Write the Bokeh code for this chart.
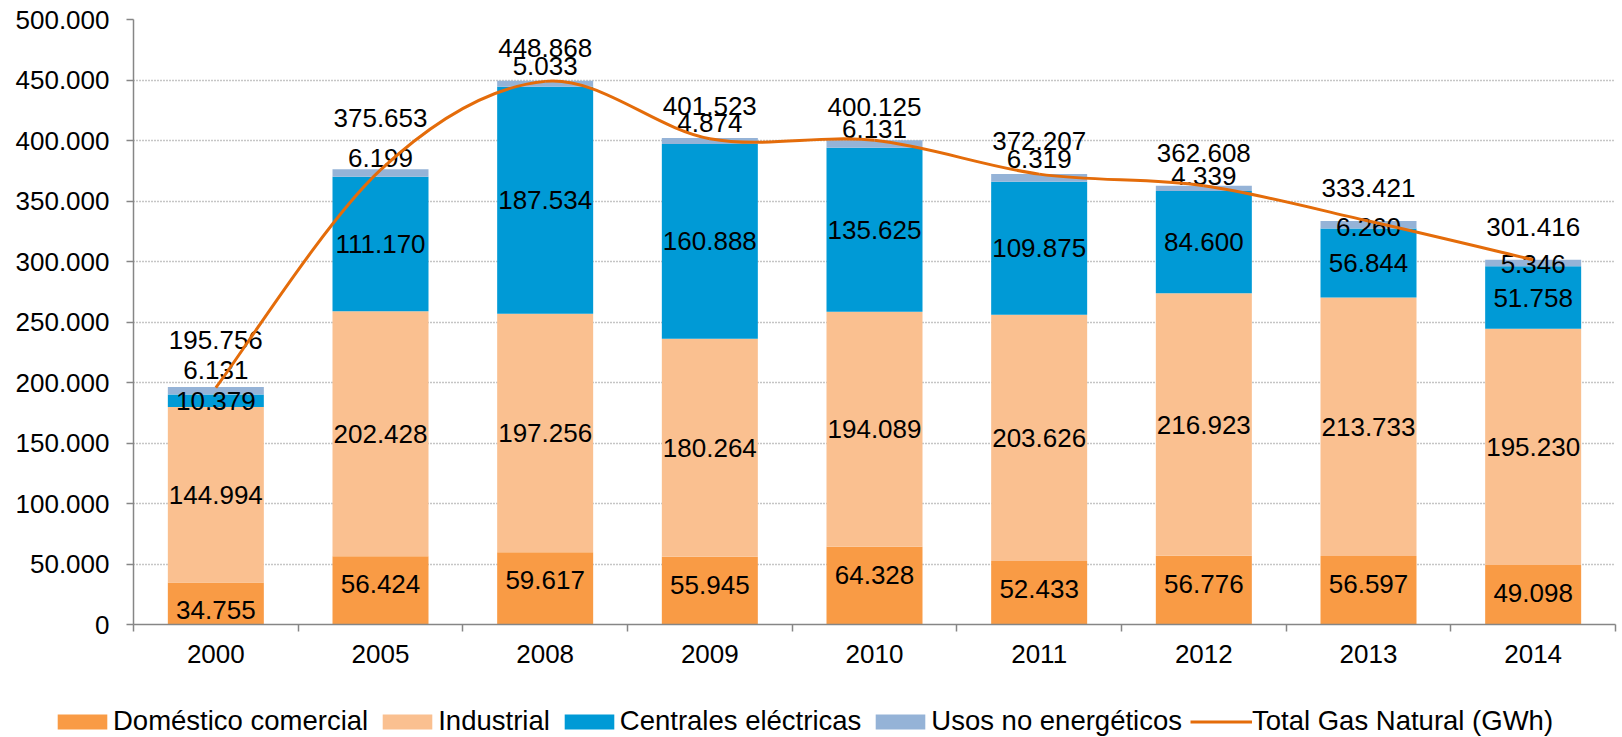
from bokeh.plotting import figure
from bokeh.models import (Range1d, FixedTicker, CustomJSTickFormatter, Legend, LegendItem,
                          ColumnDataSource)
from bokeh.embed import file_html
from bokeh.resources import INLINE
from bokeh.core.properties import value

# ---------------- data ----------------
years = ["2000", "2005", "2008", "2009", "2010", "2011", "2012", "2013", "2014"]
domestico = [34755, 56424, 59617, 55945, 64328, 52433, 56776, 56597, 49098]
industrial = [144994, 202428, 197256, 180264, 194089, 203626, 216923, 213733, 195230]
centrales = [10379, 111170, 187534, 160888, 135625, 109875, 84600, 56844, 51758]
usos = [6131, 6199, 5033, 4874, 6131, 6319, 4339, 6260, 5346]
total = [195756, 375653, 448868, 401523, 400125, 372207, 362608, 333421, 301416]
series_names = ["Doméstico comercial", "Industrial", "Centrales eléctricas",
                "Usos no energéticos", "Total Gas Natural (GWh)"]
y_ticks = list(range(0, 500001, 50000))

# label nudges (screen px) as placed in the original
usos_label_dy = [-21, -15, -18, -18, -15, -19, -12, 2, 1]
total_label_dy = [-48, -52, -33, -33, -33, -33, -33, -33, -33]

FONT = "Liberation Sans"
FS = "26px"
C_DOM = "#F99B45"
C_IND = "#FAC090"
C_CEN = "#009AD6"
C_USO = "#95B3D7"
C_TOT = "#E46C0A"
AXIS_C = "#868686"

n = len(years)
xc = [i + 0.5 for i in range(n)]


def fmt(v):
    return f"{v:,}".replace(",", ".")


b_ind = domestico
t_ind = [a + b for a, b in zip(domestico, industrial)]
t_cen = [a + b for a, b in zip(t_ind, centrales)]
t_uso = [a + b for a, b in zip(t_cen, usos)]

p = figure(width=1622, height=680, output_backend="svg", toolbar_location=None,
           x_range=Range1d(0, n), y_range=Range1d(0, 500000),
           min_border_left=133, min_border_right=7, min_border_top=19, min_border_bottom=56)
p.outline_line_color = None
p.background_fill_color = "white"
p.border_fill_color = "white"

# axes
p.yaxis.ticker = FixedTicker(ticks=y_ticks)
p.yaxis.formatter = CustomJSTickFormatter(code="""
    return Math.round(tick).toString().replace(/\\B(?=(\\d{3})+(?!\\d))/g, '.');
""")
p.xaxis.ticker = FixedTicker(ticks=xc, minor_ticks=list(range(n + 1)))
p.xaxis.formatter = CustomJSTickFormatter(args=dict(years=years), code="""
    return years[Math.floor(tick)];
""")
for ax in (p.xaxis[0], p.yaxis[0]):
    ax.axis_line_color = AXIS_C
    ax.axis_line_width = 1.5
    ax.major_tick_line_color = AXIS_C
    ax.major_tick_line_width = 1.5
    ax.minor_tick_line_color = AXIS_C
    ax.minor_tick_line_width = 1.5
    ax.major_label_text_font = FONT
    ax.major_label_text_font_size = FS
    ax.major_label_text_color = "black"
p.yaxis.major_tick_out = 7
p.yaxis.major_tick_in = 0
p.yaxis.minor_tick_out = 0
p.yaxis.minor_tick_in = 0
p.yaxis.major_label_standoff = 17
p.xaxis.major_tick_out = 0
p.xaxis.major_tick_in = 0
p.xaxis.minor_tick_out = 7
p.xaxis.minor_tick_in = 0
p.xaxis.major_label_standoff = 13

p.xgrid.visible = False
p.ygrid.ticker = FixedTicker(ticks=y_ticks)
p.ygrid.grid_line_color = "#8C8C8C"
p.ygrid.grid_line_dash = "1 2"
p.ygrid.grid_line_width = 1.3

W = 0.583
p.vbar(x=xc, bottom=0, top=domestico, width=W, fill_color=C_DOM, line_color=None)
p.vbar(x=xc, bottom=b_ind, top=t_ind, width=W, fill_color=C_IND, line_color=None)
p.vbar(x=xc, bottom=t_ind, top=t_cen, width=W, fill_color=C_CEN, line_color=None)
p.vbar(x=xc, bottom=t_cen, top=t_uso, width=W, fill_color=C_USO, line_color=None)

# data labels
lab = dict(text_font=value(FONT), text_font_size=FS, text_color="black",
           text_align="center", text_baseline="middle")
p.text(x=xc, y=domestico, text=[fmt(v) for v in domestico], y_offset=28, **lab)
p.text(x=xc, y=[a + v / 2 for a, v in zip(b_ind, industrial)],
       text=[fmt(v) for v in industrial], **lab)
p.text(x=xc, y=[a + v / 2 for a, v in zip(t_ind, centrales)],
       text=[fmt(v) for v in centrales], **lab)
src_u = ColumnDataSource(dict(x=xc, y=[a + v / 2 for a, v in zip(t_cen, usos)],
                              t=[fmt(v) for v in usos], dy=usos_label_dy))
p.text(x="x", y="y", text="t", y_offset="dy", source=src_u, **lab)
src_t = ColumnDataSource(dict(x=xc, y=total, t=[fmt(v) for v in total], dy=total_label_dy))
p.text(x="x", y="y", text="t", y_offset="dy", source=src_t, **lab)

# smoothed total line (Excel-like smoothing, cubic Bezier segments through the points)
pts = list(zip(xc, total))
bz = dict(x0=[], y0=[], x1=[], y1=[], cx0=[], cy0=[], cx1=[], cy1=[])
for i in range(n - 1):
    P0 = pts[i - 1] if i > 0 else pts[i]
    P1 = pts[i]
    P2 = pts[i + 1]
    P3 = pts[i + 2] if i + 2 < n else pts[i + 1]
    bz["x0"].append(P1[0]); bz["y0"].append(P1[1])
    bz["x1"].append(P2[0]); bz["y1"].append(P2[1])
    bz["cx0"].append(P1[0] + (P2[0] - P0[0]) / 6); bz["cy0"].append(P1[1] + (P2[1] - P0[1]) / 6)
    bz["cx1"].append(P2[0] - (P3[0] - P1[0]) / 6); bz["cy1"].append(P2[1] - (P3[1] - P1[1]) / 6)
p.bezier(source=ColumnDataSource(bz), x0="x0", y0="y0", x1="x1", y1="y1",
         cx0="cx0", cy0="cy0", cx1="cx1", cy1="cy1",
         line_color=C_TOT, line_width=3)

# ---------------- legend strip (separate root, same page) ----------------
pl = figure(width=1622, height=57, output_backend="svg", toolbar_location=None,
            x_range=Range1d(0, 1), y_range=Range1d(0, 1),
            x_axis_location=None, y_axis_location=None,
            min_border_left=0, min_border_right=0, min_border_top=0, min_border_bottom=0)
pl.outline_line_color = None
pl.grid.visible = False
pl.background_fill_color = "white"
pl.border_fill_color = "white"
# keys for the legend only (placed outside the visible range)
g_dom = pl.vbar(x=[-5], bottom=[-5], top=[-4], width=0.5, fill_color=C_DOM, line_color=None)
g_ind = pl.vbar(x=[-5], bottom=[-5], top=[-4], width=0.5, fill_color=C_IND, line_color=None)
g_cen = pl.vbar(x=[-5], bottom=[-5], top=[-4], width=0.5, fill_color=C_CEN, line_color=None)
g_uso = pl.vbar(x=[-5], bottom=[-5], top=[-4], width=0.5, fill_color=C_USO, line_color=None)
g_tot = pl.line(x=[-6, -5], y=[-5, -5], line_color=C_TOT, line_width=3)

legend = Legend(items=[LegendItem(label=nm, renderers=[r]) for nm, r in
                       zip(series_names, [g_dom, g_ind, g_cen, g_uso, g_tot])],
                orientation="horizontal", location=(51, 0))
legend.label_text_font = FONT
legend.label_text_font_size = "27.5px"
legend.label_text_color = "black"
legend.glyph_width = 62
legend.glyph_height = 19
legend.label_standoff = 0
legend.spacing = 8
legend.padding = 0
legend.margin = 0
legend.label_height = 14
legend.border_line_color = None
legend.background_fill_alpha = 0
pl.add_layout(legend)

open("out.html", "w").write(file_html([p, pl], INLINE))
